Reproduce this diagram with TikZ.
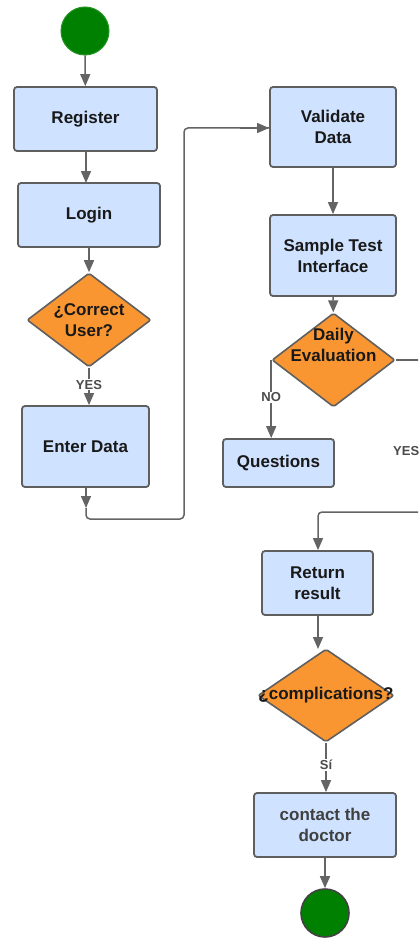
\documentclass[tikz,border=0pt]{standalone}
\usepackage{fontspec}
\setmainfont{Liberation Sans}
\usetikzlibrary{shapes.geometric,arrows.meta}
\definecolor{boxfill}{RGB}{207,226,255}
\definecolor{boxline}{RGB}{95,95,95}
\definecolor{decfill}{RGB}{250,150,50}
\definecolor{termfill}{RGB}{0,128,0}
\definecolor{conn}{RGB}{100,100,100}
\definecolor{lbl}{RGB}{75,75,75}
\tikzset{
  stepbox/.style={draw=boxline, line width=1.8pt, fill=boxfill, rounded corners=3pt,
    inner sep=0pt, align=center, font=\fontsize{17}{21}\selectfont\bfseries, text=black!90},
  decbox/.style={draw=boxline, line width=1.6pt, fill=decfill, shape=diamond,
    inner sep=0pt, rounded corners=2pt},
  dectext/.style={font=\fontsize{17}{21}\selectfont\bfseries, align=center, text=black!90},
  term/.style={draw=boxline!70!black, line width=1.6pt, fill=termfill, circle, inner sep=0pt, minimum size=48pt},
  conn/.style={draw=conn, line width=1.5pt},
  arr/.style={conn, -{Triangle[length=12pt,width=10pt]}},
  edgelbl/.style={fill=white, inner sep=1pt, font=\fontsize{13}{15}\selectfont\bfseries, text=lbl}
}
\begin{document}
\begin{tikzpicture}[x=1pt,y=-1pt]
\useasboundingbox (0,0) rectangle (418,939);
\fill[white] (0,0) rectangle (418,939);
\begin{scope}
\clip (0,0) rectangle (418,939);
% left column
\node[term, draw=termfill!85!white, line width=1pt] (start) at (85,31) {};
\node[stepbox, minimum width=143pt, minimum height=64pt] (reg) at (85.5,119) {Register};
\node[stepbox, minimum width=142pt, minimum height=64pt] (login) at (89,215) {Login};
\node[decbox, minimum width=124pt, minimum height=94pt,
      label={[dectext]center:¿Correct\\User?}] (cu) at (89,320) {};
\node[stepbox, minimum width=127pt, minimum height=81pt] (ed) at (85.5,446.5) {Enter Data};
% right column
\node[stepbox, minimum width=126pt, minimum height=80pt] (vd) at (333,127) {Validate\\Data};
\node[stepbox, minimum width=126pt, minimum height=81pt] (sti) at (333,255.5) {Sample Test\\Interface};
\node[decbox, minimum width=123pt, minimum height=94pt,
      label={[dectext, yshift=-2pt]center:Daily\\Evaluation\\[14pt]\mbox{}}] (de) at (333.5,360) {};
\node[stepbox, minimum width=111pt, minimum height=48pt] (q) at (278.5,463) {Questions};
\node[stepbox, minimum width=111pt, minimum height=64pt] (rr) at (317.5,583) {Return\\result};
\node[decbox, minimum width=136pt, minimum height=93pt,
      label={[dectext]center:¿complications?}] (cx) at (326,695.5) {};
\node[stepbox, minimum width=142pt, minimum height=64pt, text=black!75] (cd) at (325,825) {contact the\\doctor};
\node[term] (stop) at (325,913) {};
% coordinates
\coordinate (c1) at (86,508);
\coordinate (c2) at (86,519);
\coordinate (c3) at (184,519);
\coordinate (c4) at (184,128);
\coordinate (deout) at (420,360);
\coordinate (rin) at (420,512);
\coordinate (r1) at (318,512);
% connectors
\draw[arr] (start) -- (reg);
\draw[arr] (86,151) -- (86,183);
\draw[arr] (login.south) -- (cu.north);
\draw[arr] (cu.south) -- (cu.south |- ed.north) node[edgelbl, pos=0.45] {YES};
\draw[arr] (ed.south -| c1) -- (c1);
\draw[conn, rounded corners=4pt] (c1) -- (c2) -- (c3) -- (c4) -- (c4 -| vd.west);
\draw[arr] (c4 -| 240,0) -- (c4 -| vd.west);
\draw[arr] (vd) -- (sti);
\draw[arr] (sti) -- (de);
\draw[arr] (de.west) -- (de.west |- q.north) node[edgelbl, pos=0.48] {NO};
\draw[conn] (de.east) -- (deout);
\node[edgelbl, anchor=west] (yes2) at (392,451) {YES};
\draw[arr, rounded corners=4pt] (rin) -- (r1) -- (r1 |- rr.north);
\draw[arr] (rr.south -| r1) -- (318,649);
\draw[arr] (cx.south) -- (cx.south |- cd.north) node[edgelbl, pos=0.45] {Sí};
\draw[arr] (cd) -- (stop);
\end{scope}
\end{tikzpicture}
\end{document}
